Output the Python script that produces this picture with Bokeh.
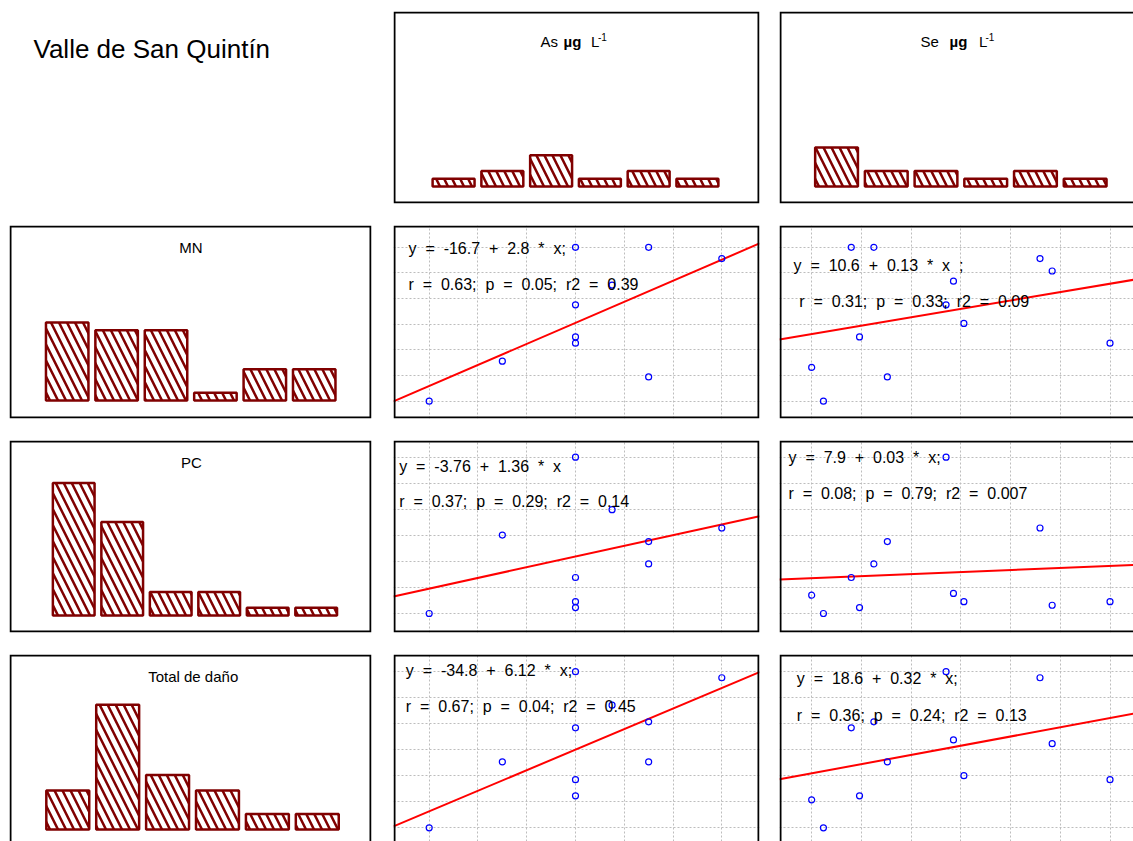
import numpy as np
from bokeh.plotting import figure
from bokeh.layouts import gridplot
from bokeh.models import Range1d, FixedTicker, Label
from bokeh.embed import file_html
from bokeh.resources import INLINE

nan = float("nan")

# Site means for the valley: metals in water (µg L-1) and nuclear damage counts
arsenic = [8, 10, 12, 12, 12, 12, 13, 14, 14, 16, nan, nan, nan, nan]
selenium = [35.9, nan, 42.3, 64.1, 44.2, 101.8, nan, 47.5, 50.6, 85.7, 33.2, 65.8, 68.2, 88.5]
mn_vals = [3.0, 10.1, 30.3, 20.1, 14.4, 13.3, 23.6, 30.3, 7.3, 28.3, 9.0, 24.3, 16.8, 26.1]
pc_vals = [2.9, 16.2, 9.0, 29.4, 3.9, 4.9, 20.5, 11.3, 15.1, 17.4, 6.0, 6.3, 4.9, 4.3]
total_vals = [7.6, 33.8, 47.3, 69.6, 20.3, 26.7, 56.3, 49.7, 33.8, 67.2, 18.7, 42.5, 28.3, 41.0]

# Histogram frequencies, six classes per variable
freq_as = [1, 2, 4, 1, 2, 1]
freq_se = [5, 2, 2, 1, 2, 1]
freq_mn = [10, 9, 9, 1, 4, 4]
freq_pc = [17, 12, 3, 3, 1, 1]
freq_total = [5, 16, 7, 5, 2, 2]

row_names = ["MN", "PC", "Total de daño"]
col_names = ["As", "Se"]

# Linear fits (intercept, slope, r, p, r2) and the ending of each equation
fits = {
    ("MN", "As"): (-16.7, 2.8, 0.63, 0.05, 0.39, ";"),
    ("MN", "Se"): (10.6, 0.13, 0.31, 0.33, 0.09, " ;"),
    ("PC", "As"): (-3.76, 1.36, 0.37, 0.29, 0.14, ""),
    ("PC", "Se"): (7.9, 0.03, 0.08, 0.79, 0.007, ";"),
    ("Total de daño", "As"): (-34.8, 6.12, 0.67, 0.04, 0.45, ";"),
    ("Total de daño", "Se"): (18.6, 0.32, 0.36, 0.24, 0.13, ";"),
}

variables = {"As": arsenic, "Se": selenium, "MN": mn_vals, "PC": pc_vals,
             "Total de daño": total_vals}
freqs = {"As": freq_as, "Se": freq_se, "MN": freq_mn, "PC": freq_pc,
         "Total de daño": freq_total}

# ---- page geometry: (page offset, size, border before, border after) ----
COLS = [(0, 382, 9, 11), (382, 387, 11, 10), (769, 364, 10, 0)]
ROWS = [(0, 214, 11, 11), (214, 215, 11, 11), (429, 214, 11, 11), (643, 198, 11, 0)]

# visible data windows of the scatter axes
XVIEW = {"As": (7.024, 17.031), "Se": (25.8, 107.2)}
YVIEW = {"MN": (-0.07, 34.17), "PC": (-0.32, 32.23), "Total de daño": (2.16, 76.43)}
# horizontal windows of the diagonal histograms in the first column
HVIEW = {"MN": (-0.04, 33.30), "PC": (-0.74, 32.23), "Total de daño": (0.70, 75.66)}
HIST_PX = 7.8      # pixels per count
HIST_BASE = 175.0  # baseline distance from frame top, px

FONT = "Liberation Sans"
GAP = "\u00a0\u00a0"
BAR = "#800000"


def edges_of(name):
    v = np.array(variables[name], dtype=float)
    lo, hi = np.nanmin(v), np.nanmax(v)
    return lo + (hi - lo) * np.arange(7) / 6.0


def make_fig(c, r, xv, yv):
    pl, w, ml, mr = COLS[c]
    pt, h, mt, mb = ROWS[r]
    p = figure(width=w, height=h, title=None,
               x_range=Range1d(*xv), y_range=Range1d(*yv),
               x_axis_location=None, y_axis_location=None,
               output_backend="svg", toolbar_location=None,
               min_border_left=ml, min_border_right=mr,
               min_border_top=mt, min_border_bottom=mb,
               outline_line_color=None,
               background_fill_color="white", border_fill_color="white")
    p.grid.visible = False
    info = dict(left=pl + ml, top=pt + mt, w=w - ml - mr, h=h - mt - mb, xv=xv, yv=yv)
    return p, info


def to_data(info, px, py):
    x0, x1 = info["xv"]
    y0, y1 = info["yv"]
    x = x0 + (px - info["left"]) / info["w"] * (x1 - x0)
    y = y1 - (py - info["top"]) / info["h"] * (y1 - y0)
    return x, y


def add_border(p, info, open_right=False, open_bottom=False):
    x0, x1 = info["xv"]
    y0, y1 = info["yv"]
    ux = (x1 - x0) / info["w"]
    uy = (y1 - y0) / info["h"]
    L = x0 + ux
    T = y1 - uy
    R = x1 + 5 * ux if open_right else x1 - ux
    B = y0 - 5 * uy if open_bottom else y0 + uy
    if not open_right and not open_bottom:
        xs, ys = [L, R, R, L, L, R], [T, T, B, B, T, T]
    elif open_right and not open_bottom:
        xs, ys = [R, L, L, R], [T, T, B, B]
    elif open_bottom and not open_right:
        xs, ys = [L, L, R, R], [B, T, T, B]
    else:
        xs, ys = [L, L, R], [B, T, T]
    p.line(xs, ys, line_color="black", line_width=2, line_join="miter")


def add_text(p, info, text, px, py, size=15, style="normal", align="left",
             baseline="middle"):
    x, y = to_data(info, px, py)
    p.add_layout(Label(x=x, y=y, text=text, text_font=FONT,
                       text_font_size=f"{size}px", text_font_style=style,
                       text_align=align, text_baseline=baseline,
                       text_color="#000000"))


def draw_hist(p, name):
    e = edges_of(name)
    centers = (e[:-1] + e[1:]) / 2
    p.vbar(x=centers, top=freqs[name], bottom=0, width=0.86 * (e[1] - e[0]),
           fill_color="white", line_color=BAR, line_width=2.5,
           hatch_pattern="left_diagonal_line", hatch_color=BAR,
           hatch_scale=16, hatch_weight=2.5)


def hist_yview(r):
    pt, h, mt, mb = ROWS[r]
    fh = h - mt - mb
    top = HIST_BASE / HIST_PX
    return (top - fh / HIST_PX, top)


grid = [[None] * 3 for _ in range(4)]

# title cell
p, info = make_fig(0, 0, (0, 1), (0, 1))
add_text(p, info, "Valle de San Quintín", 33, 48, size=26)
grid[0][0] = p

# column variable histograms (top row)
title_parts = {
    "As": [("As", 540, 15, "normal", 40.5), ("µg", 563, 15, "bold", 40.5),
           ("L", 590.5, 15, "normal", 40.5), ("-1", 597.5, 10, "normal", 36.5)],
    "Se": [("Se", 920, 15, "normal", 40.5), ("µg", 949, 15, "bold", 40.5),
           ("L", 978.5, 15, "normal", 40.5), ("-1", 985, 10, "normal", 36.5)],
}
for ci, cname in enumerate(col_names):
    c = ci + 1
    p, info = make_fig(c, 0, XVIEW[cname], hist_yview(0))
    draw_hist(p, cname)
    for txt, px, size, style, py in title_parts[cname]:
        add_text(p, info, txt, px, py, size=size, style=style, baseline="alphabetic")
    add_border(p, info, open_right=(c == 2))
    grid[0][c] = p

# row variable histograms (first column)
title_pos = {"MN": (190.3, 246.7), "PC": (191, 462.2), "Total de daño": (192.7, 676)}
for ri, rname in enumerate(row_names):
    r = ri + 1
    p, info = make_fig(0, r, HVIEW[rname], hist_yview(r))
    draw_hist(p, rname)
    tx, ty = title_pos[rname]
    add_text(p, info, rname, tx, ty, align="center")
    add_border(p, info, open_bottom=(r == 3))
    grid[r][0] = p

# text anchors for the fit annotations (equation, statistics)
fit_pos = {
    ("MN", "As"): ((408, 247.5), (408, 283.5)),
    ("MN", "Se"): ((793, 265), (798.7, 301)),
    ("PC", "As"): ((398.7, 465.5), (398.7, 501.3)),
    ("PC", "Se"): ((788, 457), (788, 493.3)),
    ("Total de daño", "As"): ((405.3, 669.7), (405.3, 706)),
    ("Total de daño", "Se"): ((796.3, 678.3), (796.3, 715)),
}

# scatter panels with least-squares lines
for ri, rname in enumerate(row_names):
    r = ri + 1
    for ci, cname in enumerate(col_names):
        c = ci + 1
        p, info = make_fig(c, r, XVIEW[cname], YVIEW[rname])
        p.xgrid.visible = True
        p.ygrid.visible = True
        p.xgrid.ticker = FixedTicker(ticks=list(edges_of(cname)))
        p.ygrid.ticker = FixedTicker(ticks=list(edges_of(rname)))
        for g in (p.xgrid, p.ygrid):
            g.grid_line_color = "#bdbdbd"
            g.grid_line_dash = "2 2"
            g.grid_line_width = 1

        xv = np.array(variables[cname], dtype=float)
        yv = np.array(variables[rname], dtype=float)
        ok = ~np.isnan(xv) & ~np.isnan(yv)

        a, b, rr, pp, r2, end = fits[(rname, cname)]
        lx = np.array(XVIEW[cname])
        p.line(lx, a + b * lx, line_color="#ff0000", line_width=2)

        p.scatter(xv[ok], yv[ok], marker="circle", size=6, fill_color=None,
                  line_color="#0000ff", line_width=1.2)

        tokens = ["y", "=", str(a), "+", str(b), "*"]
        if end == " ;":
            tokens += ["x", ";"]
        else:
            tokens += ["x" + end]
        eq = GAP.join(tokens)
        stats = GAP.join(["r", "=", f"{rr};", "p", "=", f"{pp};", "r2", "=", str(r2)])
        (ex, ey), (sx, sy) = fit_pos[(rname, cname)]
        add_text(p, info, eq, ex, ey, size=16)
        add_text(p, info, stats, sx, sy, size=16)

        add_border(p, info, open_right=(c == 2), open_bottom=(r == 3))
        grid[r][c] = p

layout = gridplot(grid, toolbar_location=None)

with open("out.html", "w") as f:
    f.write(file_html(layout, INLINE))
